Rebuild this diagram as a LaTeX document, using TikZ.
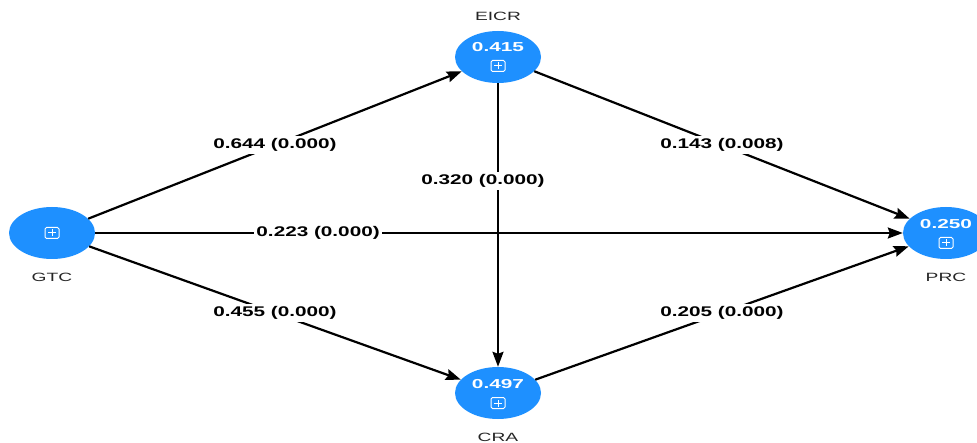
\documentclass[tikz,border=0pt]{standalone}
\usepackage{fontspec}
\setmainfont{Liberation Sans}[FakeStretch=1.6]
\newfontfamily\coeffont{Liberation Sans}[FakeStretch=1.48]
\usetikzlibrary{shapes.geometric,arrows.meta}
\definecolor{nodeblue}{RGB}{30,144,255}
\tikzset{
  latent/.style={ellipse,fill=nodeblue,draw=none,minimum width=86pt,minimum height=52pt,inner sep=0pt},
  valtext/.style={text=white,font=\fontsize{13}{13}\selectfont\bfseries,inner sep=0pt},
  plusbox/.style={draw=white,line width=1pt,rounded corners=1.5pt,minimum width=14pt,minimum height=11pt,inner sep=0pt,
    path picture={\draw[white,line width=1pt] ([xshift=-4pt]path picture bounding box.center) -- ([xshift=4pt]path picture bounding box.center);
                  \draw[white,line width=1pt] ([yshift=-3.5pt]path picture bounding box.center) -- ([yshift=3.5pt]path picture bounding box.center);}},
  nametext/.style={font=\fontsize{12}{12}\selectfont,text=black!85,inner sep=0pt},
  path/.style={draw=black,line width=2.2pt,-{Stealth[length=15pt,width=11pt,inset=2pt]}},
  coef/.style={fill=white,font=\coeffont\fontsize{14}{14}\selectfont\bfseries,inner sep=2pt,text=black}
}
\begin{document}
\begin{tikzpicture}[x=1pt,y=-1pt]
\useasboundingbox (0,0) rectangle (977,443);
\node[latent] (GTC) at (52,233) {};
\node[latent] (EICR) at (498,57) {};
\node[latent] (CRA) at (498,393) {};
\node[latent] (PRC) at (946,233) {};
% values and boxes
\node[plusbox] (GTCp) at (52,233) {};
\node[valtext] (EICRv) at (498,47) {0.415};
\node[plusbox] (EICRp) at (498,66) {};
\node[valtext] (CRAv) at (498,384) {0.497};
\node[plusbox] (CRAp) at (498,403) {};
\node[valtext] (PRCv) at (946,224) {0.250};
\node[plusbox] (PRCp) at (946,243) {};
% names
\node[nametext] (GTCn) at (52,277) {GTC};
\node[nametext] (EICRn) at (498,16) {EICR};
\node[nametext] (CRAn) at (498,437) {CRA};
\node[nametext] (PRCn) at (946,277) {PRC};
% paths
\draw[path] (GTC) -- (EICR) node[coef,pos=0.5] (l1) {0.644 (0.000)};
\draw[path] (GTC) -- (PRC) node[coef,pos=0.276] (l2) {0.223 (0.000)};
\draw[path] (GTC) -- (CRA) node[coef,pos=0.5] (l3) {0.455 (0.000)};
\draw[path] (EICR) -- (CRA);
\node[coef] (l4) at (483,181) {0.320 (0.000)};
\draw[path] (EICR) -- (PRC) node[coef,pos=0.5] (l5) {0.143 (0.008)};
\draw[path] (CRA) -- (PRC) node[coef,pos=0.5] (l6) {0.205 (0.000)};
\end{tikzpicture}
\end{document}
